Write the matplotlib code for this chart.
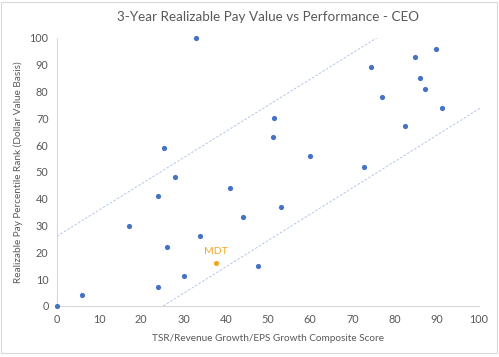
import matplotlib.pyplot as plt
from matplotlib.patches import Rectangle

plt.rcParams['font.family'] = ['Lato', 'DejaVu Sans']

# peer companies: composite score vs realizable pay rank
peer_x = [0, 6, 17, 24, 28, 26, 24, 30, 34, 41, 44, 47.6, 33, 25.3, 53.2,
          51.5, 51.2, 60, 72.8, 74.3, 76.9, 82.5, 84.9, 86.1, 87.1, 89.8, 91.2]
peer_y = [0, 4, 30, 41, 48, 22, 7, 11, 26, 44, 33, 15, 100, 59, 37,
          70, 63, 56, 52, 89, 78, 67, 93, 85, 81, 96, 74]

mdt_x = [37.6]
mdt_y = [16]

# alignment band (dashed lines)
upper_x = [0, 75.8]
upper_y = [26, 100]
lower_x = [25.2, 100.5]
lower_y = [0, 74]

ticks = [0, 10, 20, 30, 40, 50, 60, 70, 80, 90, 100]

fig = plt.figure(figsize=(4.99, 3.57), dpi=100)
ax = fig.add_axes([0.114, 0.143, 0.846, 0.751])

ax.plot(upper_x, upper_y, linestyle=(0, (3, 2)), color='#A9BEE6', linewidth=0.6)
ax.plot(lower_x, lower_y, linestyle=(0, (3, 2)), color='#A9BEE6', linewidth=0.6, clip_on=False)
ax.scatter(peer_x, peer_y, s=14, color='#4472C4', zorder=3, clip_on=False, linewidths=0)
ax.scatter(mdt_x, mdt_y, s=14, color='#F5A623', zorder=3, linewidths=0)
ax.annotate('MDT', (mdt_x[0], mdt_y[0]), xytext=(0, 5), textcoords='offset points',
            ha='center', va='bottom', color='#F5A623', fontsize=7.5)

ax.set_xlim(0, 100)
ax.set_ylim(0, 100)
ax.set_xticks(ticks)
ax.set_yticks(ticks)
for s in ['top', 'right']:
    ax.spines[s].set_visible(False)
for s in ['left', 'bottom']:
    ax.spines[s].set_color('#D9D9D9')
    ax.spines[s].set_linewidth(0.8)
ax.tick_params(length=0, labelsize=7.8, labelcolor='#595959', pad=6)

ax.set_title('3-Year Realizable Pay Value vs Performance - CEO', fontsize=9.7,
             color='#595959', pad=12)
ax.set_xlabel('TSR/Revenue Growth/EPS Growth Composite Score', fontsize=7.2,
              color='#595959', labelpad=6)
ax.set_ylabel('Realizable Pay Percentile Rank (Dollar Value Basis)', fontsize=7.2,
              color='#595959', labelpad=5)

# chart area border
fig.patches.append(Rectangle((0.003, 0.012), 0.992, 0.983, transform=fig.transFigure,
                             fill=False, edgecolor='#D9D9D9', linewidth=0.8))

fig.savefig('out.png', dpi=100)
